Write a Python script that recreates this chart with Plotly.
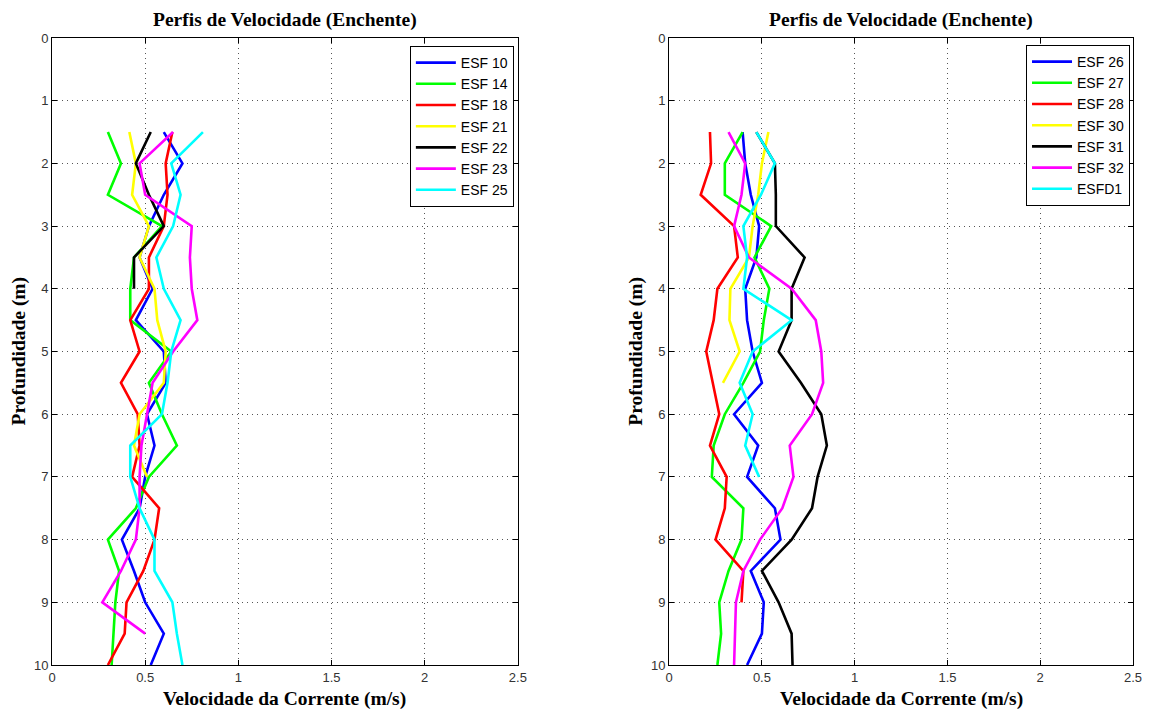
import plotly.graph_objects as go

depth = [1.5, 2, 2.5, 3, 3.5, 4, 4.5, 5, 5.5, 6, 6.5, 7, 7.5, 8, 8.5, 9, 9.5, 10]

# Left panel series (velocity m/s per depth)
esf10 = [0.60, 0.70, 0.60, 0.52, 0.47, 0.54, 0.45, 0.60, 0.61, 0.51, 0.55, 0.50, 0.47, 0.375, 0.44, 0.50, 0.60, 0.53]
esf14 = [0.30, 0.37, 0.30, 0.59, 0.44, 0.42, 0.42, 0.64, 0.52, 0.59, 0.67, 0.52, 0.45, 0.30, 0.36, 0.34, 0.33, 0.32]
esf18 = [0.646, 0.61, 0.62, 0.60, 0.52, 0.52, 0.42, 0.47, 0.37, 0.46, 0.47, 0.43, 0.575, 0.55, 0.49, 0.40, 0.39, 0.30]
esf21 = [0.415, 0.45, 0.43, 0.52, 0.47, 0.55, 0.565, 0.61, 0.60, 0.47, 0.44, 0.51]
esf22 = [0.53, 0.45, 0.52, 0.60, 0.44, 0.44]
esf23 = [0.65, 0.47, 0.50, 0.75, 0.74, 0.75, 0.78, 0.65, 0.54, 0.51, 0.48, 0.47, 0.47, 0.45, 0.37, 0.27, 0.50]
esf25 = [0.81, 0.64, 0.69, 0.65, 0.56, 0.60, 0.69, 0.64, 0.62, 0.59, 0.42, 0.42, 0.47, 0.55, 0.55, 0.646, 0.67, 0.70]

# Right panel series
esf26 = [0.396, 0.41, 0.44, 0.485, 0.47, 0.41, 0.42, 0.45, 0.50, 0.35, 0.48, 0.42, 0.57, 0.60, 0.44, 0.51, 0.50, 0.42]
esf27 = [0.396, 0.30, 0.30, 0.55, 0.46, 0.54, 0.51, 0.49, 0.40, 0.30, 0.24, 0.23, 0.40, 0.39, 0.32, 0.27, 0.28, 0.26]
esf28 = [0.22, 0.226, 0.17, 0.35, 0.37, 0.26, 0.24, 0.20, 0.235, 0.27, 0.22, 0.31, 0.30, 0.25, 0.40, 0.39]
esf30 = [0.535, 0.50, 0.48, 0.45, 0.43, 0.33, 0.325, 0.38, 0.29]
esf31 = [0.47, 0.57, 0.575, 0.575, 0.73, 0.66, 0.66, 0.59, 0.71, 0.82, 0.85, 0.80, 0.77, 0.66, 0.50, 0.59, 0.66, 0.665]
esf32 = [0.32, 0.41, 0.39, 0.35, 0.43, 0.66, 0.79, 0.82, 0.83, 0.77, 0.65, 0.67, 0.61, 0.49, 0.40, 0.36, 0.355, 0.35]
esfd1 = [0.47, 0.57, 0.495, 0.40, 0.42, 0.40, 0.66, 0.45, 0.38, 0.45, 0.41, 0.485]

left_names = ["ESF 10", "ESF 14", "ESF 18", "ESF 21", "ESF 22", "ESF 23", "ESF 25"]
left_data = [esf10, esf14, esf18, esf21, esf22, esf23, esf25]
right_names = ["ESF 26", "ESF 27", "ESF 28", "ESF 30", "ESF 31", "ESF 32", "ESFD1"]
right_data = [esf26, esf27, esf28, esf30, esf31, esf32, esfd1]
colors = ["#0000ff", "#00ff00", "#ff0000", "#ffff00", "#000000", "#ff00ff", "#00ffff"]

title_text = "Perfis de Velocidade (Enchente)"
xlabel = "Velocidade da Corrente (m/s)"
ylabel = "Profundidade (m)"
xticks = [0, 0.5, 1, 1.5, 2, 2.5]
yticks = list(range(0, 11))

fig = go.Figure()
for name, vals, c in zip(left_names, left_data, colors):
    fig.add_trace(go.Scatter(x=vals, y=depth[:len(vals)], mode="lines", name=name,
                             line=dict(color=c, width=2.6), xaxis="x", yaxis="y", legend="legend"))
for name, vals, c in zip(right_names, right_data, colors):
    fig.add_trace(go.Scatter(x=vals, y=depth[:len(vals)], mode="lines", name=name,
                             line=dict(color=c, width=2.6), xaxis="x2", yaxis="y2", legend="legend2"))

# page body has an 8px margin; figure sized to fit the 1154x709 window
OFF = 8
W, H = 1154 - OFF, 709 - OFF
ml, mt = 52 - OFF, 38 - OFF
mr = OFF + W - 1138
mb = OFF + H - 665
pw = W - ml - mr
ph = H - mt - mb
dom1 = [0, (520 - 52) / pw]
dom2 = [(672 - 52) / pw, 1]

axfont = dict(family="Liberation Sans, Arial", size=13, color="#333")
grid = dict(showgrid=True, gridcolor="#555", griddash="1px,4px", gridwidth=1)
common_x = dict(range=[0, 2.5], tickvals=xticks, ticks="inside", ticklen=5, tickcolor="#000",
                showline=True, linecolor="#000", linewidth=1, mirror="ticks",
                zeroline=False, tickfont=axfont, **grid)
common_y = dict(range=[10, 0], tickvals=yticks, ticks="inside", ticklen=5, tickcolor="#000",
                showline=True, linecolor="#000", linewidth=1, mirror="ticks",
                zeroline=False, tickfont=axfont, **grid)

legfont = dict(family="Liberation Sans, Arial", size=14, color="#000")
fig.update_layout(
    width=W, height=H,
    margin=dict(l=ml, r=mr, t=mt, b=mb),
    paper_bgcolor="white", plot_bgcolor="white",
    xaxis=dict(domain=dom1, anchor="y", **common_x),
    yaxis=dict(domain=[0, 1], anchor="x", **common_y),
    xaxis2=dict(domain=dom2, anchor="y2", **common_x),
    yaxis2=dict(domain=[0, 1], anchor="x2", **common_y),
    legend=dict(x=(516 - 52) / pw, y=1 - (46 - 38) / ph, xanchor="right", yanchor="top",
                bgcolor="white", bordercolor="#000", borderwidth=1, font=legfont,
                tracegroupgap=0, itemwidth=40),
    legend2=dict(x=(1135 - 52) / pw, y=1 - (45 - 38) / ph, xanchor="right", yanchor="top",
                 bgcolor="white", bordercolor="#000", borderwidth=1, font=legfont,
                 tracegroupgap=0, itemwidth=40),
    showlegend=True,
)

tfont = dict(family="Liberation Serif, Times New Roman", size=19.5, color="#000")
lfont = dict(family="Liberation Serif, Times New Roman", size=19.5, color="#000")
for dom in (dom1, dom2):
    cx = (dom[0] + dom[1]) / 2
    fig.add_annotation(text="<b>%s</b>" % title_text, xref="paper", yref="paper", x=cx, y=1,
                       yshift=18, xanchor="center", yanchor="middle", showarrow=False, font=tfont)
    fig.add_annotation(text="<b>%s</b>" % xlabel, xref="paper", yref="paper", x=cx, y=0,
                       yshift=-34, xanchor="center", yanchor="middle", showarrow=False, font=lfont)
for dom in (dom1, dom2):
    fig.add_annotation(text="<b>%s</b>" % ylabel, xref="paper", yref="paper", x=dom[0], y=0.5,
                       xshift=-34, xanchor="center", yanchor="middle", textangle=-90,
                       showarrow=False, font=lfont)

fig.write_html("out.html")
